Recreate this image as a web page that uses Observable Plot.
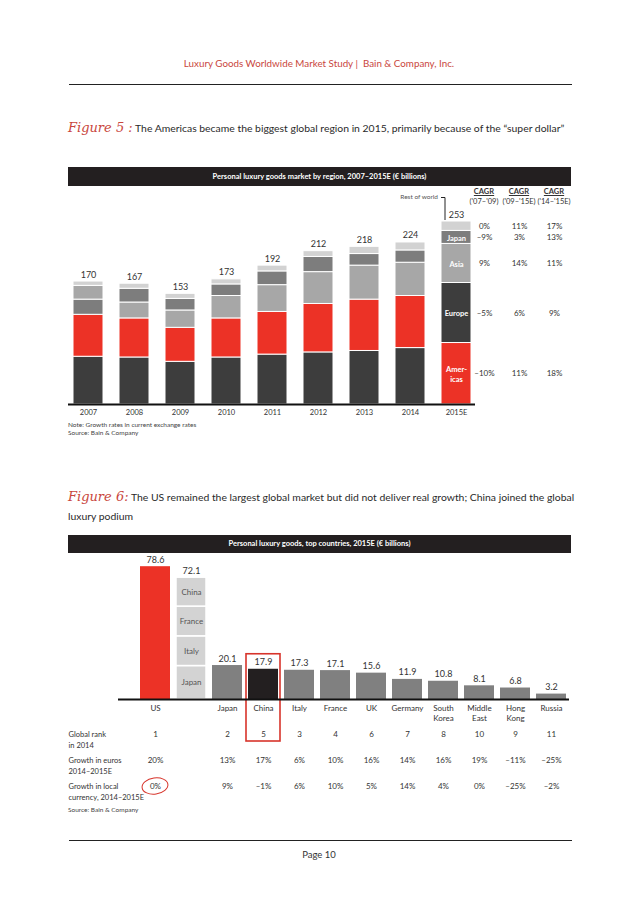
<!DOCTYPE html>
<html><head><meta charset="utf-8">
<script src="https://cdn.jsdelivr.net/npm/d3@7"></script>
<script src="https://cdn.jsdelivr.net/npm/@observablehq/plot@0.6"></script>
<style>
body{margin:0;background:#fff;}
#page{position:relative;width:638px;height:903px;font-family:Lato,"Open Sans",sans-serif;color:#333;overflow:hidden;background:#fff;}
.abs{position:absolute;white-space:nowrap;}
.hdrbar{position:absolute;left:68px;width:503px;background:#231f20;color:#fff;font-weight:bold;font-size:7.5px;text-align:center;}
.rule{position:absolute;height:0;border-top:1px solid #222;}
.fig{font-family:"DejaVu Serif",serif;font-style:italic;color:#c9463d;font-size:13px;}
.svgwrap{position:absolute;left:0;}
.svgwrap svg{overflow:visible;}
</style></head><body><div id="page"></div>
<script>
// ---------- Figure 5 data ----------
const years = ["2007","2008","2009","2010","2011","2012","2013","2014","2015E"];
const totals = [170,167,153,173,192,212,218,224,253];
const americas = [58,54,47,54,59,67,71,72,85];
const europe = [66,65,59,65,69,72,74,78,83];
const asia = [19,22,24,31,37,44,47,46,54];
const japan = [21,19,16,16,19,21,16,17,18];
const restOfWorld = [6,7,7,7,8,8,10,11,13];
const stackOrder2007 = ["Europe","Americas","Japan","Asia","Rest of world"];
const stackOrderMid = ["Europe","Americas","Asia","Japan","Rest of world"];
const stackOrder2015 = ["Americas","Europe","Asia","Japan","Rest of world"];
const labels2015 = {"Americas":"Amer-\nicas","Europe":"Europe","Asia":"Asia","Japan":"Japan","Rest of world":""};
const cagrPeriods = ["('07–'09)","('09–'15E)","('14–'15E)"];
const cagrAmericas = ["–10%","11%","18%"];
const cagrEurope = ["–5%","6%","9%"];
const cagrAsia = ["9%","14%","11%"];
const cagrJapan = ["–9%","3%","13%"];
const cagrRest = ["0%","11%","17%"];

// ---------- Figure 6 data ----------
const countries = ["US","Top4","Japan","China","Italy","France","UK","Germany","South Korea","Middle East","Hong Kong","Russia"];
const countryLabels = ["US","","Japan","China","Italy","France","UK","Germany","South\nKorea","Middle\nEast","Hong\nKong","Russia"];
const marketValues = [78.6,72.1,20.1,17.9,17.3,17.1,15.6,11.9,10.8,8.1,6.8,3.2];
const top4Parts = ["Japan","Italy","France","China"];
const top4Values = [19.8,17.6,17.6,17.1];
const globalRank = ["1","","2","5","3","4","6","7","8","10","9","11"];
const growthEuros = ["20%","","13%","17%","6%","10%","16%","14%","16%","19%","–11%","–25%"];
const growthLocal = ["0%","","9%","–1%","6%","10%","5%","14%","4%","0%","–25%","–2%"];
const tableRowKeys = ["rank","euro","local"];
const tableRowLabels = ["Global rank\nin 2014","Growth in euros\n2014–2015E","Growth in local\ncurrency, 2014–2015E"];

const regionColors = {"Europe":"#3d3d3d","Americas":"#ec3226","Asia":"#a7a7a7","Japan":"#7d7d7d","Rest of world":"#d2d2d2"};
const series = {"Americas":americas,"Europe":europe,"Asia":asia,"Japan":japan,"Rest of world":restOfWorld};
const cagr = {"Americas":cagrAmericas,"Europe":cagrEurope,"Asia":cagrAsia,"Japan":cagrJapan,"Rest of world":cagrRest};

const page = document.getElementById("page");
function addDiv(html, css, cls){const d=document.createElement("div");d.className=cls||"abs";d.innerHTML=html;Object.assign(d.style,css);page.appendChild(d);return d;}

// Page header
addDiv("Luxury Goods Worldwide Market Study |&nbsp; Bain &amp; Company, Inc.",{left:"0",width:"638px",textAlign:"center",top:"57px",fontSize:"9.8px",color:"#c9463d"});
addDiv("",{left:"69px",width:"503px",top:"84px"},"rule");
addDiv('<span class="fig">Figure 5 :</span> The Americas became the biggest global region in 2015, primarily because of the “super dollar”',{left:"68px",top:"120px",fontSize:"10.4px",color:"#2a2a2a"});
addDiv("Personal luxury goods market by region, 2007–2015E (€ billions)",{top:"167px",height:"19px",lineHeight:"19px"},"hdrbar");

// Chart 1
const rows = [];
years.forEach((yr,i)=>{
  const ord = i===0 ? stackOrder2007 : (yr==="2015E" ? stackOrder2015 : stackOrderMid);
  ord.forEach(r=>rows.push({year:yr,region:r,value:series[r][i]}));
});
const rows2015 = rows.filter(d=>d.year==="2015E");
const baseStyle = {fontFamily:"Lato, sans-serif",fontSize:"8px",color:"#333",background:"transparent",overflow:"visible"};
const plot1 = Plot.plot({
  width:638,height:240,marginLeft:68,marginRight:163,marginBottom:24,marginTop:0,
  style:baseStyle,
  x:{type:"band",domain:years,range:[64.5,478.5],paddingInner:0.35,paddingOuter:0.175},
  y:{domain:[0,253],range:[216,33],axis:null},
  marks:[
    Plot.barY(rows,{x:"year",y:"value",fill:d=>regionColors[d.region],stroke:"#fff",strokeWidth:1}),
    Plot.text(rows2015,Plot.stackY({x:"year",y:"value",text:d=>labels2015[d.region],fill:"#fff",fontWeight:"bold",fontSize:7.5,lineHeight:1.35})),
    ...[0,1,2].map(k=>Plot.text(rows2015,Plot.stackY({x:"year",y:"value",text:d=>cagr[d.region][k],dx:28+35*k,fontSize:8,fill:"#333"}))),
    Plot.ruleY([0],{stroke:"#111",strokeWidth:2}),
    Plot.text(years,{x:d=>d,y:(d,i)=>totals[i],text:(d,i)=>String(totals[i]),dy:-4,lineAnchor:"bottom",fontSize:9,fill:"#333",letterSpacing:"0.5px"}),
    Plot.axisX({tickSize:0,tickPadding:5,fontSize:7.5,label:null})
  ]
});
const w1 = addDiv("",{top:"188px"},"svgwrap"); w1.appendChild(plot1);

// CAGR headers
const xs1 = plot1.scale("x");
const c15 = xs1.apply("2015E")+xs1.bandwidth/2;
cagrPeriods.forEach((p,k)=>{
  addDiv('<span style="text-decoration:underline;font-weight:bold">CAGR</span><br>'+p,{left:(c15+28+35*k)+"px",top:"187px",transform:"translateX(-50%)",textAlign:"center",fontSize:"7.5px",lineHeight:"10px",color:"#333"});
});
// Rest of world label + leader
addDiv("Rest of world",{left:"388px",top:"193px",fontSize:"6.5px",color:"#555",width:"50px",textAlign:"right"});
const ys1 = plot1.scale("y");
const lx = xs1.apply("2015E")+4;
const leader = d3.select(page).append("svg").attr("width",638).attr("height",903).style("position","absolute").style("left","0").style("top","0").style("pointer-events","none");
leader.append("path").attr("d",`M${lx-4},197.5H${lx}V${188+ys1.apply(253)-1}`).attr("fill","none").attr("stroke","#222").attr("stroke-width",1);

addDiv("Note: Growth rates in current exchange rates",{left:"68px",top:"421px",fontSize:"6.5px",color:"#444"});
addDiv("Source: Bain &amp; Company",{left:"68px",top:"429px",fontSize:"6.5px",color:"#444"});

// Figure 6
addDiv('<span class="fig">Figure 6:</span> The US remained the largest global market but did not deliver real growth; China joined the global<br>luxury podium',{left:"68px",top:"487px",fontSize:"10.4px",lineHeight:"19px",color:"#2a2a2a"});
addDiv("Personal luxury goods, top countries, 2015E (€ billions)",{top:"535px",height:"18px",lineHeight:"18px"},"hdrbar");

const singles = countries.map((c,i)=>({c,v:marketValues[i]})).filter(d=>d.c!=="Top4");
const top4 = top4Parts.map((p,i)=>({c:"Top4",part:p,v:top4Values[i]}));
const barColor = c => c==="US" ? "#ec3226" : (c==="China" ? "#231f20" : "#808080");
const xOpts = {type:"band",domain:countries,range:[137,569],paddingInner:0.17,paddingOuter:0.085};
const plot2 = Plot.plot({
  width:638,height:200,marginLeft:118,marginRight:69,marginBottom:53,marginTop:0,
  style:baseStyle,
  x:{...xOpts,axis:null},
  y:{domain:[0,78.6],range:[147,14.2],axis:null},
  marks:[
    Plot.barY(singles,{x:"c",y:"v",fill:d=>barColor(d.c)}),
    Plot.barY(top4,{x:"c",y:"v",fill:"#d3d3d3",stroke:"#fff",strokeWidth:1.5}),
    Plot.text(top4,Plot.stackY({x:"c",y:"v",text:"part",fill:"#555",fontSize:8})),
    Plot.ruleY([0],{stroke:"#111",strokeWidth:2}),
    Plot.text(countries,{x:d=>d,y:(d,i)=>marketValues[i],text:(d,i)=>marketValues[i].toFixed(1),dy:-4,lineAnchor:"bottom",fontSize:9,fill:"#333",letterSpacing:"0.5px"}),
    Plot.text(countries,{x:d=>d,y:()=>0,text:(d,i)=>countryLabels[i],lineAnchor:"top",dy:4,fontSize:8,lineHeight:1.25,fill:"#333"})
  ]
});
const w2 = addDiv("",{top:"552px"},"svgwrap"); w2.appendChild(plot2);

// Table
const cells = [];
countries.forEach((c,i)=>{
  if(c==="Top4") return;
  cells.push({c,row:"rank",t:globalRank[i]});
  cells.push({c,row:"euro",t:growthEuros[i]});
  cells.push({c,row:"local",t:growthLocal[i]});
});
const plot3 = Plot.plot({
  width:638,height:90,marginLeft:118,marginRight:69,marginBottom:0,marginTop:0,
  style:baseStyle,
  x:{...xOpts,axis:null},
  y:{type:"band",domain:tableRowKeys,range:[0,78],padding:0,axis:null},
  marks:[
    Plot.text(cells,{x:"c",y:"row",text:"t",fontSize:8,fill:"#333"}),
    Plot.text(tableRowKeys,{y:d=>d,text:(d,i)=>tableRowLabels[i],frameAnchor:"left",textAnchor:"start",lineAnchor:"top",dy:-5,dx:-50,fontSize:7.5,lineHeight:1.45,fill:"#333"})
  ]
});
const w3 = addDiv("",{top:"721px"},"svgwrap"); w3.appendChild(plot3);

// Annotations: red box around China, ellipse around US local growth
const xs2 = plot2.scale("x"), ys2 = plot2.scale("y");
const bx = xs2.apply("China")-2, bw = xs2.bandwidth+4;
const btop = 552+ys2.apply(17.9)-15;
const ys3 = plot3.scale("y");
const bbot = 721+ys3.apply("rank")+ys3.bandwidth/2+7;
leader.append("rect").attr("x",bx).attr("y",btop).attr("width",bw).attr("height",bbot-btop).attr("fill","none").attr("stroke","#d7342b").attr("stroke-width",1.6);
const ex = xs2.apply("US")+xs2.bandwidth/2, ey = 721+ys3.apply("local")+ys3.bandwidth/2;
leader.append("ellipse").attr("cx",ex).attr("cy",ey).attr("rx",13).attr("ry",8).attr("transform",`rotate(-8 ${ex} ${ey})`).attr("fill","none").attr("stroke","#d7342b").attr("stroke-width",1);

addDiv("Source: Bain &amp; Company",{left:"68px",top:"806px",fontSize:"6.5px",color:"#444"});
addDiv("",{left:"69px",width:"503px",top:"840px"},"rule");
addDiv("Page 10",{left:"0",width:"638px",textAlign:"center",top:"849px",fontSize:"9.5px",color:"#333"});
</script></body></html>
